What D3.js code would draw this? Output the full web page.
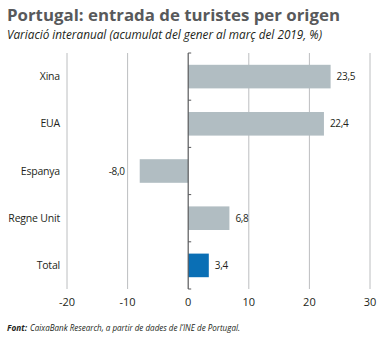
<!DOCTYPE html>
<html>
<head>
<meta charset="utf-8">
<script src="https://cdn.jsdelivr.net/npm/d3@7"></script>
<style>
  body { margin: 0; background: #fff; }
  text { font-family: "Open Sans", sans-serif; }
</style>
</head>
<body>
<div id="chart"></div>
<script>
var categories = ["Xina", "EUA", "Espanya", "Regne Unit", "Total"];
var values = [23.5, 22.4, -8.0, 6.8, 3.4];
var xTicks = [-20, -10, 0, 10, 20, 30];

var width = 388, height = 338;
var margin = { top: 53, right: 18, bottom: 49, left: 67 };

var svg = d3.select("#chart").append("svg")
    .attr("width", width)
    .attr("height", height);

var x = d3.scaleLinear().domain([-20, 30]).range([margin.left, 370]);
var y = d3.scaleBand().domain(categories).range([margin.top, height - margin.bottom]).paddingInner(0.5).paddingOuter(0.25);

// title
svg.append("text")
    .attr("x", 7).attr("y", 21)
    .attr("fill", "#58595b")
    .style("font-size", "16.5px")
    .style("font-weight", "bold")
    .attr("textLength", 333).attr("lengthAdjust", "spacingAndGlyphs")
    .text("Portugal: entrada de turistes per origen");

svg.append("text")
    .attr("x", 7).attr("y", 39)
    .attr("fill", "#231f20")
    .style("font-size", "13px")
    .style("font-style", "italic")
    .attr("textLength", 315).attr("lengthAdjust", "spacingAndGlyphs")
    .text("Variació interanual (acumulat del gener al març del 2019, %)");

// gridlines
svg.append("g")
    .selectAll("line")
    .data(xTicks.filter(function (d) { return d !== 0; }))
    .enter().append("line")
    .attr("x1", function (d) { return x(d); })
    .attr("x2", function (d) { return x(d); })
    .attr("y1", margin.top)
    .attr("y2", height - margin.bottom)
    .attr("stroke", "#bcbec0")
    .attr("stroke-width", 1);

// bars
svg.append("g")
    .selectAll("rect")
    .data(values)
    .enter().append("rect")
    .attr("x", function (d) { return x(Math.min(0, d)); })
    .attr("y", function (d, i) { return y(categories[i]); })
    .attr("width", function (d) { return Math.abs(x(d) - x(0)); })
    .attr("height", y.bandwidth())
    .attr("fill", function (d, i) { return categories[i] === "Total" ? "#0a6fb5" : "#b1bdc2"; });

// value labels
svg.append("g")
    .selectAll("text")
    .data(values)
    .enter().append("text")
    .attr("x", function (d) { return d < 0 ? x(d) - 15 : x(d) + 6; })
    .attr("y", function (d, i) { return y(categories[i]) + y.bandwidth() / 2; })
    .attr("dy", "0.35em")
    .attr("text-anchor", function (d) { return d < 0 ? "end" : "start"; })
    .attr("fill", "#231f20")
    .style("font-size", "10px")
    .style("letter-spacing", "-0.3px")
    .text(function (d) { return d3.format(".1f")(d).replace(".", ",").replace("−", "-"); });

// zero axis with ticks between bands
var axisG = svg.append("g");
axisG.append("line")
    .attr("x1", x(0)).attr("x2", x(0))
    .attr("y1", margin.top).attr("y2", height - margin.bottom)
    .attr("stroke", "#58595b").attr("stroke-width", 1.2);
var bounds = d3.range(categories.length + 1).map(function (i) { return margin.top + i * (height - margin.top - margin.bottom) / categories.length; });
axisG.selectAll("line.tick")
    .data(bounds)
    .enter().append("line")
    .attr("class", "tick")
    .attr("x1", x(0)).attr("x2", x(0) + 3)
    .attr("y1", function (d) { return d; })
    .attr("y2", function (d) { return d; })
    .attr("stroke", "#58595b").attr("stroke-width", 1);

// category labels
svg.append("g")
    .selectAll("text")
    .data(categories)
    .enter().append("text")
    .attr("x", 60)
    .attr("y", function (d) { return y(d) + y.bandwidth() / 2; })
    .attr("dy", "0.35em")
    .attr("text-anchor", "end")
    .attr("fill", "#231f20")
    .style("font-size", "10.5px")
    .style("letter-spacing", "-0.2px")
    .text(function (d) { return d; });

// x tick labels
svg.append("g")
    .selectAll("text")
    .data(xTicks)
    .enter().append("text")
    .attr("x", function (d) { return x(d); })
    .attr("y", 306)
    .attr("text-anchor", "middle")
    .attr("fill", "#231f20")
    .style("font-size", "11px")
    .text(function (d) { return d; });

// source
svg.append("text")
    .attr("x", 7).attr("y", 331)
    .attr("fill", "#231f20")
    .style("font-size", "9.5px")
    .style("font-style", "italic")
    .style("font-weight", "bold")
    .attr("textLength", 20).attr("lengthAdjust", "spacingAndGlyphs")
    .text("Font:");
svg.append("text")
    .attr("x", 30).attr("y", 331)
    .attr("fill", "#231f20")
    .style("font-size", "9.5px")
    .style("font-style", "italic")
    .attr("textLength", 210).attr("lengthAdjust", "spacingAndGlyphs")
    .text("CaixaBank Research, a partir de dades de l’INE de Portugal.");
</script>
</body>
</html>
